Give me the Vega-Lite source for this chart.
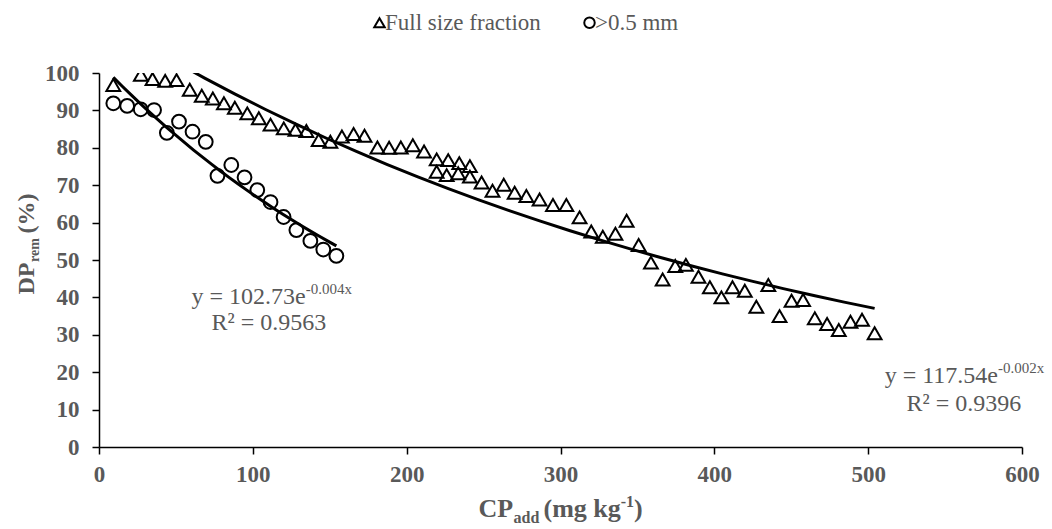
{
  "$schema": "https://vega.github.io/schema/vega-lite/v6.json",
  "width": 923,
  "height": 374,
  "autosize": {"type": "none"},
  "padding": {"left": 99, "top": 73, "right": 30, "bottom": 82},
  "background": "white",
  "config": {
    "font": "Liberation Serif",
    "view": {"stroke": null},
    "axis": {"grid": false}
  },
  "datasets": {
    "points": [
      {"series": "Full size fraction", "x": 9.3, "y": 96.8},
      {"series": "Full size fraction", "x": 27.2, "y": 99.5},
      {"series": "Full size fraction", "x": 34.8, "y": 98.4},
      {"series": "Full size fraction", "x": 43.0, "y": 97.9},
      {"series": "Full size fraction", "x": 50.4, "y": 98.1},
      {"series": "Full size fraction", "x": 59.0, "y": 95.5},
      {"series": "Full size fraction", "x": 66.8, "y": 93.9},
      {"series": "Full size fraction", "x": 74.0, "y": 93.2},
      {"series": "Full size fraction", "x": 81.2, "y": 91.9},
      {"series": "Full size fraction", "x": 88.3, "y": 90.7},
      {"series": "Full size fraction", "x": 96.4, "y": 89.2},
      {"series": "Full size fraction", "x": 103.9, "y": 87.9},
      {"series": "Full size fraction", "x": 111.5, "y": 86.2},
      {"series": "Full size fraction", "x": 120.1, "y": 85.2},
      {"series": "Full size fraction", "x": 127.7, "y": 84.8},
      {"series": "Full size fraction", "x": 134.8, "y": 84.5},
      {"series": "Full size fraction", "x": 142.8, "y": 82.1},
      {"series": "Full size fraction", "x": 150.4, "y": 81.6},
      {"series": "Full size fraction", "x": 157.9, "y": 83.0},
      {"series": "Full size fraction", "x": 165.5, "y": 83.7},
      {"series": "Full size fraction", "x": 172.6, "y": 83.2},
      {"series": "Full size fraction", "x": 181.0, "y": 80.1},
      {"series": "Full size fraction", "x": 188.6, "y": 80.0},
      {"series": "Full size fraction", "x": 196.2, "y": 80.1},
      {"series": "Full size fraction", "x": 204.0, "y": 80.7},
      {"series": "Full size fraction", "x": 211.3, "y": 79.0},
      {"series": "Full size fraction", "x": 219.5, "y": 76.9},
      {"series": "Full size fraction", "x": 227.0, "y": 76.7},
      {"series": "Full size fraction", "x": 234.2, "y": 75.9},
      {"series": "Full size fraction", "x": 241.1, "y": 75.1},
      {"series": "Full size fraction", "x": 219.5, "y": 73.6},
      {"series": "Full size fraction", "x": 226.0, "y": 72.7},
      {"series": "Full size fraction", "x": 233.5, "y": 73.2},
      {"series": "Full size fraction", "x": 241.1, "y": 72.3},
      {"series": "Full size fraction", "x": 248.7, "y": 70.7},
      {"series": "Full size fraction", "x": 255.8, "y": 68.5},
      {"series": "Full size fraction", "x": 263.1, "y": 70.1},
      {"series": "Full size fraction", "x": 270.2, "y": 68.0},
      {"series": "Full size fraction", "x": 277.8, "y": 67.1},
      {"series": "Full size fraction", "x": 286.4, "y": 66.2},
      {"series": "Full size fraction", "x": 295.1, "y": 64.7},
      {"series": "Full size fraction", "x": 303.8, "y": 64.7},
      {"series": "Full size fraction", "x": 312.4, "y": 61.4},
      {"series": "Full size fraction", "x": 320.0, "y": 57.6},
      {"series": "Full size fraction", "x": 327.5, "y": 56.2},
      {"series": "Full size fraction", "x": 335.7, "y": 57.0},
      {"series": "Full size fraction", "x": 343.0, "y": 60.5},
      {"series": "Full size fraction", "x": 350.8, "y": 54.0},
      {"series": "Full size fraction", "x": 358.8, "y": 49.3},
      {"series": "Full size fraction", "x": 366.4, "y": 44.8},
      {"series": "Full size fraction", "x": 374.6, "y": 48.4},
      {"series": "Full size fraction", "x": 381.5, "y": 48.7},
      {"series": "Full size fraction", "x": 389.7, "y": 45.5},
      {"series": "Full size fraction", "x": 397.1, "y": 42.7},
      {"series": "Full size fraction", "x": 404.6, "y": 40.0},
      {"series": "Full size fraction", "x": 411.8, "y": 42.7},
      {"series": "Full size fraction", "x": 419.8, "y": 41.8},
      {"series": "Full size fraction", "x": 427.3, "y": 37.5},
      {"series": "Full size fraction", "x": 435.1, "y": 43.3},
      {"series": "Full size fraction", "x": 442.4, "y": 35.0},
      {"series": "Full size fraction", "x": 450.2, "y": 39.1},
      {"series": "Full size fraction", "x": 457.7, "y": 39.3},
      {"series": "Full size fraction", "x": 465.3, "y": 34.4},
      {"series": "Full size fraction", "x": 473.3, "y": 32.9},
      {"series": "Full size fraction", "x": 480.9, "y": 31.3},
      {"series": "Full size fraction", "x": 488.5, "y": 33.5},
      {"series": "Full size fraction", "x": 496.0, "y": 34.0},
      {"series": "Full size fraction", "x": 504.2, "y": 30.4},
      {"series": ">0.5 mm", "x": 9.3, "y": 91.9},
      {"series": ">0.5 mm", "x": 18.3, "y": 91.2},
      {"series": ">0.5 mm", "x": 27.1, "y": 90.3},
      {"series": ">0.5 mm", "x": 35.8, "y": 90.1},
      {"series": ">0.5 mm", "x": 44.1, "y": 84.0},
      {"series": ">0.5 mm", "x": 52.0, "y": 87.0},
      {"series": ">0.5 mm", "x": 60.8, "y": 84.3},
      {"series": ">0.5 mm", "x": 69.4, "y": 81.6},
      {"series": ">0.5 mm", "x": 77.0, "y": 72.5},
      {"series": ">0.5 mm", "x": 86.0, "y": 75.4},
      {"series": ">0.5 mm", "x": 94.6, "y": 72.1},
      {"series": ">0.5 mm", "x": 102.9, "y": 68.7},
      {"series": ">0.5 mm", "x": 111.5, "y": 65.5},
      {"series": ">0.5 mm", "x": 120.0, "y": 61.5},
      {"series": ">0.5 mm", "x": 128.3, "y": 58.0},
      {"series": ">0.5 mm", "x": 137.4, "y": 55.1},
      {"series": ">0.5 mm", "x": 145.8, "y": 52.8},
      {"series": ">0.5 mm", "x": 154.3, "y": 51.1}
    ],
    "eq": [
      {"x": 134.4, "y": 40.1, "main": "y = 102.73e", "sup": "-0.004x"},
      {"x": 584.4, "y": 19.0, "main": "y = 117.54e", "sup": "-0.002x"}
    ],
    "r2": [
      {"x": 110.5, "y": 33.2, "label": "R² = 0.9563"},
      {"x": 562.2, "y": 11.5, "label": "R² = 0.9396"}
    ]
  },
  "resolve": {"axis": {"x": "independent", "y": "independent"}},
  "layer": [
    {
      "data": {"name": "points"},
      "mark": {"type": "point", "filled": false, "color": "black", "strokeWidth": 2, "opacity": 1, "size": 190, "clip": true},
      "encoding": {
        "x": {
          "field": "x", "type": "quantitative",
          "scale": {"domain": [0, 600], "nice": false, "zero": true},
          "axis": {
            "orient": "bottom", "values": [0, 100, 200, 300, 400, 500, 600], "format": "d",
            "domainColor": "black", "domainWidth": 1.5, "tickColor": "black", "tickWidth": 1.5, "tickSize": 7,
            "labelFont": "Liberation Serif", "labelFontSize": 23, "labelFontWeight": "bold", "labelColor": "#595959",
            "labelPadding": 9, "labelFlush": false, "labelOverlap": false,
            "title": "CP", "titleFont": "Liberation Serif", "titleFontSize": 26, "titleFontWeight": "bold", "titleColor": "#595959",
            "titleX": 379, "titleY": 69, "titleAlign": "left", "titleBaseline": "alphabetic"
          }
        },
        "y": {
          "field": "y", "type": "quantitative",
          "scale": {"domain": [0, 100], "nice": false},
          "axis": {
            "orient": "left", "values": [0, 10, 20, 30, 40, 50, 60, 70, 80, 90, 100], "format": "d",
            "domainColor": "black", "domainWidth": 1.5, "tickColor": "black", "tickWidth": 1.5, "tickSize": 7,
            "labelFont": "Liberation Serif", "labelFontSize": 23, "labelFontWeight": "bold", "labelColor": "#595959",
            "labelPadding": 13, "labelFlush": false, "labelOverlap": false,
            "title": "DP", "titleFont": "Liberation Serif", "titleFontSize": 24, "titleFontWeight": "bold", "titleColor": "#595959",
            "titleAngle": 270, "titleX": -66, "titleY": 221, "titleAlign": "left", "titleBaseline": "alphabetic"
          }
        },
        "shape": {
          "field": "series", "type": "nominal",
          "scale": {"domain": ["Full size fraction", ">0.5 mm"], "range": ["triangle-up", "circle"]},
          "legend": {
            "orient": "none", "legendX": 269, "legendY": -62, "direction": "horizontal", "title": null,
            "labelFont": "Liberation Serif", "labelFontSize": 23, "labelColor": "#595959",
            "symbolStrokeColor": "black", "symbolStrokeWidth": 2, "symbolFillColor": "transparent", "symbolSize": 110,
            "labelOffset": -6, "columnPadding": 37
          }
        }
      }
    },
    {
      "data": {"name": "points"},
      "transform": [{"regression": "y", "on": "x", "groupby": ["series"], "method": "exp"}],
      "mark": {"type": "line", "color": "black", "strokeWidth": 3, "clip": true},
      "encoding": {
        "x": {
          "field": "x", "type": "quantitative",
          "scale": {"domain": [0, 600], "nice": false, "zero": true},
          "axis": {
            "orient": "bottom", "domain": false, "ticks": false, "labels": false, "grid": false,
            "title": "add", "titleFont": "Liberation Serif", "titleFontSize": 16, "titleFontWeight": "bold", "titleColor": "#595959",
            "titleX": 414, "titleY": 75, "titleAlign": "left", "titleBaseline": "alphabetic"
          }
        },
        "y": {
          "field": "y", "type": "quantitative",
          "scale": {"domain": [0, 100], "nice": false},
          "axis": {
            "orient": "left", "domain": false, "ticks": false, "labels": false, "grid": false,
            "title": "rem", "titleFont": "Liberation Serif", "titleFontSize": 14, "titleFontWeight": "bold", "titleColor": "#595959",
            "titleAngle": 270, "titleX": -61, "titleY": 188.5, "titleAlign": "left", "titleBaseline": "alphabetic"
          }
        },
        "detail": {"field": "series", "type": "nominal"}
      }
    },
    {
      "data": {"name": "eq"},
      "mark": {"type": "text", "align": "right", "baseline": "middle", "fontSize": 24, "color": "#595959", "font": "Liberation Serif"},
      "encoding": {
        "x": {
          "field": "x", "type": "quantitative",
          "scale": {"domain": [0, 600], "nice": false, "zero": true},
          "axis": {
            "orient": "bottom", "domain": false, "ticks": false, "labels": false, "grid": false,
            "title": "(mg kg", "titleFont": "Liberation Serif", "titleFontSize": 26, "titleFontWeight": "bold", "titleColor": "#595959",
            "titleX": 444, "titleY": 69, "titleAlign": "left", "titleBaseline": "alphabetic"
          }
        },
        "y": {
          "field": "y", "type": "quantitative",
          "scale": {"domain": [0, 100], "nice": false},
          "axis": {
            "orient": "left", "domain": false, "ticks": false, "labels": false, "grid": false,
            "title": "(%)", "titleFont": "Liberation Serif", "titleFontSize": 24, "titleFontWeight": "bold", "titleColor": "#595959",
            "titleAngle": 270, "titleX": -66, "titleY": 160, "titleAlign": "left", "titleBaseline": "alphabetic"
          }
        },
        "text": {"field": "main", "type": "nominal"}
      }
    },
    {
      "data": {"name": "eq"},
      "mark": {"type": "text", "align": "left", "baseline": "middle", "dy": -8, "fontSize": 15, "color": "#595959", "font": "Liberation Serif"},
      "encoding": {
        "x": {
          "field": "x", "type": "quantitative",
          "scale": {"domain": [0, 600], "nice": false, "zero": true},
          "axis": {
            "orient": "bottom", "domain": false, "ticks": false, "labels": false, "grid": false,
            "title": "-1", "titleFont": "Liberation Serif", "titleFontSize": 16, "titleFontWeight": "bold", "titleColor": "#595959",
            "titleX": 521.2, "titleY": 59, "titleAlign": "left", "titleBaseline": "alphabetic"
          }
        },
        "y": {
          "field": "y", "type": "quantitative",
          "scale": {"domain": [0, 100], "nice": false},
          "axis": null
        },
        "text": {"field": "sup", "type": "nominal"}
      }
    },
    {
      "data": {"name": "r2"},
      "mark": {"type": "text", "align": "center", "baseline": "middle", "fontSize": 24, "color": "#595959", "font": "Liberation Serif"},
      "encoding": {
        "x": {
          "field": "x", "type": "quantitative",
          "scale": {"domain": [0, 600], "nice": false, "zero": true},
          "axis": {
            "orient": "bottom", "domain": false, "ticks": false, "labels": false, "grid": false,
            "title": ")", "titleFont": "Liberation Serif", "titleFontSize": 26, "titleFontWeight": "bold", "titleColor": "#595959",
            "titleX": 534.5, "titleY": 69, "titleAlign": "left", "titleBaseline": "alphabetic"
          }
        },
        "y": {
          "field": "y", "type": "quantitative",
          "scale": {"domain": [0, 100], "nice": false},
          "axis": null
        },
        "text": {"field": "label", "type": "nominal"}
      }
    }
  ]
}
